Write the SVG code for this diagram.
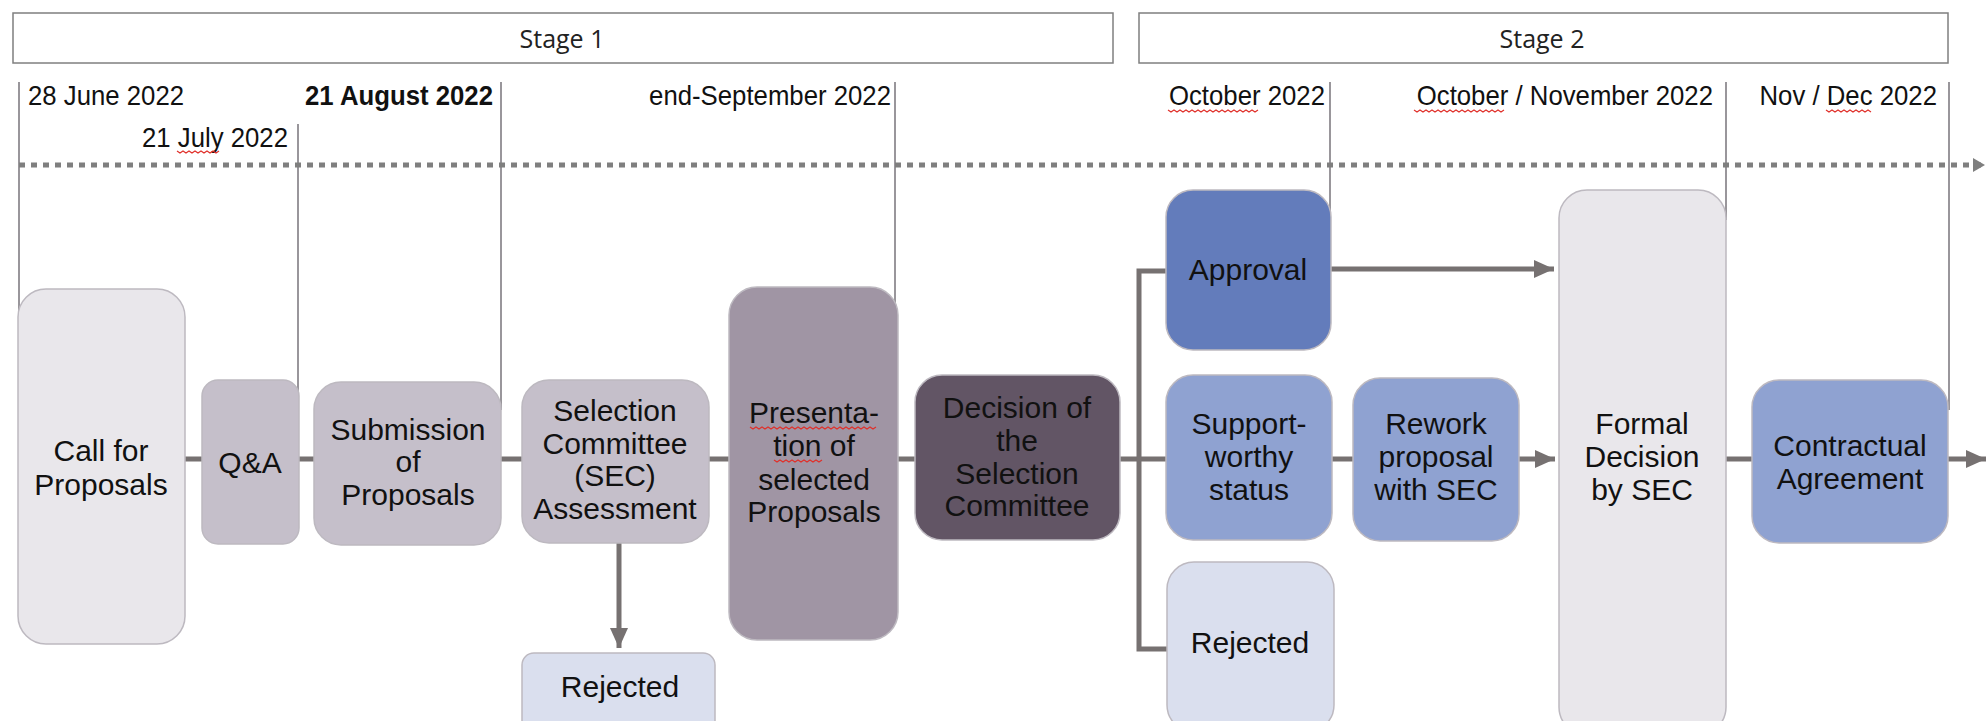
<svg xmlns="http://www.w3.org/2000/svg" width="1988" height="721" viewBox="0 0 1988 721">
<defs>
<style>
.stage{fill:#fff;stroke:#7f7f7f;stroke-width:1.5}
.stxt{font-family:"Open Sans","Noto Sans",sans-serif;font-size:25px;fill:#222;text-anchor:middle}
.date{font-family:"Liberation Sans",Arial,sans-serif;font-size:28px;fill:#111;text-anchor:end}
.tl{stroke:#77737a;stroke-width:1.5;fill:none}
.conn{stroke:#767171;stroke-width:5;fill:none}
.dot{stroke:#7f7f7f;stroke-width:5;stroke-dasharray:6 6;fill:none}
.node rect{stroke:#bdb9c0;stroke-width:1.5}
.node text{font-family:"Liberation Sans",Arial,sans-serif;font-size:30px;fill:#111;text-anchor:middle}
.sq{stroke:#e0302a;stroke-width:1.2;fill:none}
</style>
<marker id="ah" markerUnits="userSpaceOnUse" markerWidth="22" markerHeight="20" refX="20" refY="9" orient="auto">
<path d="M0,0 L20,9 L0,18 z" fill="#767171"/>
</marker>
<marker id="ahd" markerUnits="userSpaceOnUse" markerWidth="14" markerHeight="16" refX="12" refY="8" orient="auto">
<path d="M0,1 L12,8 L0,15 z" fill="#7f7f7f"/>
</marker>
</defs>

<g id="stages">
<rect class="stage" x="13" y="13" width="1100" height="50"/>
<text class="stxt" x="562" y="48">Stage 1</text>
<rect class="stage" x="1139" y="13" width="809" height="50"/>
<text class="stxt" x="1542" y="48">Stage 2</text>
</g>

<g id="timeline">
<line class="tl" x1="19" y1="82" x2="19" y2="320"/>
<line class="tl" x1="298" y1="124" x2="298" y2="400"/>
<line class="tl" x1="501" y1="82" x2="501" y2="410"/>
<line class="tl" x1="895" y1="82" x2="895" y2="310"/>
<line class="tl" x1="1330" y1="82" x2="1330" y2="215"/>
<line class="tl" x1="1726" y1="82" x2="1726" y2="220"/>
<line class="tl" x1="1949" y1="82" x2="1949" y2="410"/>
<text class="date" transform="translate(28 0) scale(0.92 1)" x="0" y="105" style="text-anchor:start">28 June 2022</text>
<text class="date" transform="translate(288 0) scale(0.92 1)" x="0" y="147">21 July 2022</text>
<text class="date" transform="translate(493 0) scale(0.92 1)" x="0" y="105" font-weight="bold">21 August 2022</text>
<text class="date" transform="translate(891 0) scale(0.92 1)" x="0" y="105">end-September 2022</text>
<text class="date" transform="translate(1325 0) scale(0.92 1)" x="0" y="105">October 2022</text>
<text class="date" transform="translate(1713 0) scale(0.92 1)" x="0" y="105">October / November 2022</text>
<text class="date" transform="translate(1937 0) scale(0.92 1)" x="0" y="105">Nov / Dec 2022</text>
<path class="sq" d="M177,151 l3,2 l3,-2 l3,2 l3,-2 l3,2 l3,-2 l3,2 l3,-2 l3,2 l3,-2 l3,2 l3,-2 l3,2 l3,-2"/>
<path class="sq" d="M1168,110 l3,2 l3,-2 l3,2 l3,-2 l3,2 l3,-2 l3,2 l3,-2 l3,2 l3,-2 l3,2 l3,-2 l3,2 l3,-2 l3,2 l3,-2 l3,2 l3,-2 l3,2 l3,-2 l3,2 l3,-2 l3,2 l3,-2 l3,2 l3,-2 l3,2 l3,-2 l3,2 l3,-2"/>
<path class="sq" d="M1414,110 l3,2 l3,-2 l3,2 l3,-2 l3,2 l3,-2 l3,2 l3,-2 l3,2 l3,-2 l3,2 l3,-2 l3,2 l3,-2 l3,2 l3,-2 l3,2 l3,-2 l3,2 l3,-2 l3,2 l3,-2 l3,2 l3,-2 l3,2 l3,-2 l3,2 l3,-2 l3,2 l3,-2"/>
<path class="sq" d="M1826,110 l3,2 l3,-2 l3,2 l3,-2 l3,2 l3,-2 l3,2 l3,-2 l3,2 l3,-2 l3,2 l3,-2 l3,2 l3,-2 l3,2"/>
<line class="dot" x1="19" y1="165" x2="1985" y2="165" marker-end="url(#ahd)"/>
</g>

<g id="connectors">
<line class="conn" x1="185" y1="459" x2="1166" y2="459"/>
<line class="conn" x1="619" y1="543" x2="619" y2="648" marker-end="url(#ah)"/>
<polyline class="conn" points="1166,271 1139,271 1139,649 1167,649"/>
<line class="conn" x1="1331" y1="269" x2="1554" y2="269" marker-end="url(#ah)"/>
<line class="conn" x1="1332" y1="459" x2="1353" y2="459"/>
<line class="conn" x1="1519" y1="459" x2="1555" y2="459" marker-end="url(#ah)"/>
<line class="conn" x1="1726" y1="459" x2="1752" y2="459"/>
<line class="conn" x1="1948" y1="459" x2="1986" y2="459" marker-end="url(#ah)"/>
</g>

<g id="call" class="node">
<rect x="18" y="289" width="167" height="355" rx="28" fill="#e9e7eb"/>
<text x="101" y="461">Call for</text>
<text x="101" y="495">Proposals</text>
</g>
<g id="qa" class="node">
<rect x="202" y="380" width="97" height="164" rx="16" fill="#c5bfca"/>
<text x="250" y="473">Q&amp;A</text>
</g>
<g id="submission" class="node">
<rect x="314" y="382" width="187" height="163" rx="27" fill="#c5bfca"/>
<text x="408" y="440">Submission</text>
<text x="408" y="472">of</text>
<text x="408" y="505">Proposals</text>
</g>
<g id="assessment" class="node">
<rect x="522" y="380" width="187" height="163" rx="27" fill="#c5bfca"/>
<text x="615" y="421">Selection</text>
<text x="615" y="454">Committee</text>
<text x="615" y="486">(SEC)</text>
<text x="615" y="519">Assessment</text>
</g>
<g id="rejected1" class="node">
<rect x="522" y="653" width="193" height="80" rx="12" fill="#dadfee"/>
<text x="620" y="697">Rejected</text>
</g>
<g id="presentation" class="node">
<rect x="729" y="287" width="169" height="353" rx="28" fill="#a095a4"/>
<text x="814" y="423">Presenta-</text>
<text x="814" y="456">tion of</text>
<text x="814" y="490">selected</text>
<text x="814" y="522">Proposals</text>
<path class="sq" d="M750,427 l3,2 l3,-2 l3,2 l3,-2 l3,2 l3,-2 l3,2 l3,-2 l3,2 l3,-2 l3,2 l3,-2 l3,2 l3,-2 l3,2 l3,-2 l3,2 l3,-2 l3,2 l3,-2 l3,2 l3,-2 l3,2 l3,-2 l3,2 l3,-2 l3,2 l3,-2 l3,2 l3,-2 l3,2 l3,-2 l3,2 l3,-2 l3,2 l3,-2 l3,2 l3,-2 l3,2 l3,-2 l3,2 l3,-2"/>
<path class="sq" d="M774,460 l3,2 l3,-2 l3,2 l3,-2 l3,2 l3,-2 l3,2 l3,-2 l3,2 l3,-2 l3,2 l3,-2 l3,2 l3,-2 l3,2 l3,-2"/>
</g>
<g id="decision" class="node">
<rect x="915" y="375" width="205" height="165" rx="27" fill="#625565"/>
<text x="1017" y="418">Decision of</text>
<text x="1017" y="451">the</text>
<text x="1017" y="484">Selection</text>
<text x="1017" y="516">Committee</text>
</g>
<g id="approval" class="node">
<rect x="1166" y="190" width="165" height="160" rx="27" fill="#637cbb"/>
<text x="1248" y="280">Approval</text>
</g>
<g id="supportworthy" class="node">
<rect x="1166" y="375" width="166" height="165" rx="27" fill="#8fa2d1"/>
<text x="1249" y="434">Support-</text>
<text x="1249" y="467">worthy</text>
<text x="1249" y="500">status</text>
</g>
<g id="rejected2" class="node">
<rect x="1167" y="562" width="167" height="170" rx="27" fill="#dadfee"/>
<text x="1250" y="653">Rejected</text>
</g>
<g id="rework" class="node">
<rect x="1353" y="378" width="166" height="163" rx="27" fill="#8fa2d1"/>
<text x="1436" y="434">Rework</text>
<text x="1436" y="467">proposal</text>
<text x="1436" y="500">with SEC</text>
</g>
<g id="formal" class="node">
<rect x="1559" y="190" width="167" height="545" rx="28" fill="#e9e7eb"/>
<text x="1642" y="434">Formal</text>
<text x="1642" y="467">Decision</text>
<text x="1642" y="500">by SEC</text>
</g>
<g id="contractual" class="node">
<rect x="1752" y="380" width="196" height="163" rx="27" fill="#8fa2d1"/>
<text x="1850" y="456">Contractual</text>
<text x="1850" y="489">Agreement</text>
</g>
</svg>
